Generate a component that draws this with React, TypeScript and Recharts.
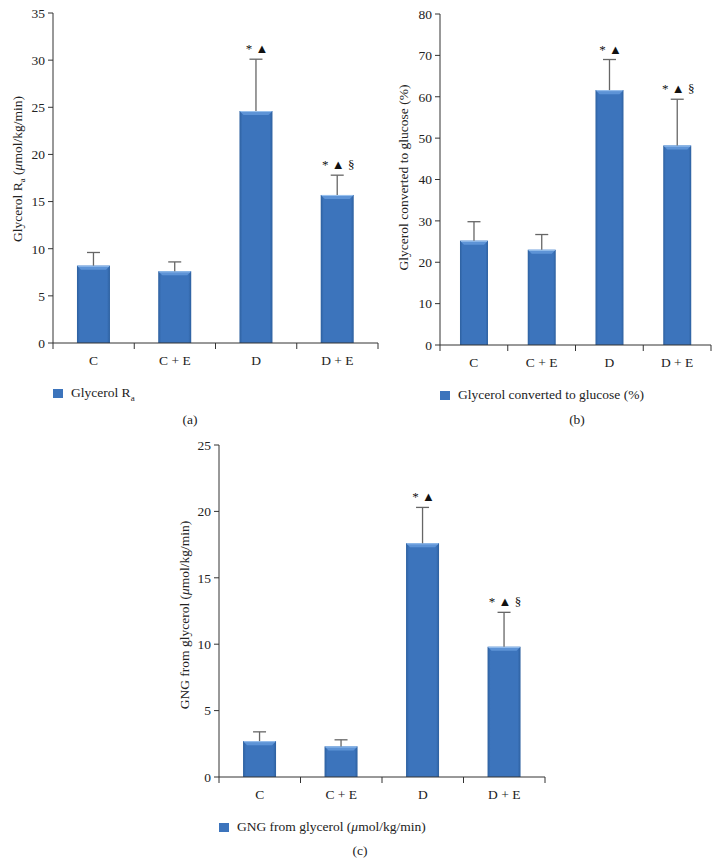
import React from "react"
import { BarChart, Bar, XAxis, YAxis, LabelList, Legend } from "recharts"

const groups = ["C", "C + E", "D", "D + E"]
const marks = ["", "", "* ▲", "* ▲ §"]

// panel (a) glycerol Ra
const raMean = [8.2, 7.6, 24.6, 15.7]
const raUpper = [9.6, 8.6, 30.1, 17.8]
const raTicks = [0, 5, 10, 15, 20, 25, 30, 35]

// panel (b) glycerol converted to glucose
const convMean = [25.2, 23.0, 61.6, 48.2]
const convUpper = [29.8, 26.7, 69.0, 59.4]
const convTicks = [0, 10, 20, 30, 40, 50, 60, 70, 80]

// panel (c) GNG from glycerol
const gngMean = [2.7, 2.3, 17.6, 9.8]
const gngUpper = [3.4, 2.8, 20.3, 12.4]
const gngTicks = [0, 5, 10, 15, 20, 25]

const FONT = '"Liberation Serif", "DejaVu Serif", serif'
const TICK_SIZE = 6
const TICK_MARGIN = 5

const buildRows = (mean: number[], upper: number[]) =>
  groups.map((g, i) => ({
    group: g,
    mean: mean[i],
    err: +(upper[i] - mean[i]).toFixed(2),
    mark: marks[i],
  }))

const BevelBar = (props: any) => {
  const { x, y, width, height, gid } = props
  if (!height || height <= 0) return null
  const b = Math.min(4, height / 2)
  return (
    <g>
      <rect x={x} y={y} width={width} height={height} fill={`url(#${gid})`} />
      <polygon
        points={`${x},${y} ${x + width},${y} ${x + width - b},${y + b} ${x + b},${y + b}`}
        fill="#5d93d6"
      />
      <line x1={x + 1} x2={x + width - 1} y1={y + 0.5} y2={y + 0.5} stroke="#9cc3ef" strokeWidth={1} />
    </g>
  )
}

const ErrShape = (props: any) => {
  const { x, y, width, height } = props
  const cx = x + width / 2
  return (
    <g stroke="#666" strokeWidth={1.3}>
      <line x1={cx} x2={cx} y1={y + height} y2={y} />
      <line x1={cx - 6.5} x2={cx + 6.5} y1={y} y2={y} />
    </g>
  )
}

const MarkLabel = (props: any) => {
  const { x, y, width, value } = props
  if (!value) return null
  return (
    <text x={x + width / 2 + 1} y={y - 6} textAnchor="middle" fontFamily={FONT} fontSize={13} fill="#111">
      {value}
    </text>
  )
}

const BoundTick = (props: any) => {
  const { x, y, payload, index, visibleTicksCount } = props
  const half = payload?.offset ?? 40
  const axisY = y - TICK_SIZE - TICK_MARGIN
  const last = index === (visibleTicksCount ?? 4) - 1
  return (
    <g>
      <line x1={x - half} x2={x - half} y1={axisY} y2={axisY + TICK_SIZE} stroke="#333" />
      {last && <line x1={x + half} x2={x + half} y1={axisY} y2={axisY + TICK_SIZE} stroke="#333" />}
      <text x={x} y={y + 11} textAnchor="middle" fontFamily={FONT} fontSize={13.5} fill="#222">
        {payload.value}
      </text>
    </g>
  )
}

interface PanelProps {
  id: string
  mean: number[]
  upper: number[]
  ticks: number[]
  left: number
  top: number
  width: number
  plotLeft: number
  plotRight: number
  plotTop: number
  plotBottom: number
  yLabel: React.ReactNode
  yLabelX: number
  yLabelShift?: number
  legendLabel: React.ReactNode
  legendX: number
  legendY: number
  caption: string
  captionX: number
  captionY: number
}

function Panel(p: PanelProps) {
  const data = buildRows(p.mean, p.upper)
  const height = p.plotBottom - p.top + 60
  const yAxisWidth = p.plotLeft - p.left
  const gid = `grad-${p.id}`
  const labelCenterY = (p.plotTop + p.plotBottom) / 2 - p.top + (p.yLabelShift ?? 0)
  const YLab = () => (
    <text
      x={p.yLabelX - p.left}
      y={labelCenterY}
      transform={`rotate(-90 ${p.yLabelX - p.left} ${labelCenterY})`}
      textAnchor="middle"
      dominantBaseline="central"
      fontFamily={FONT}
      fontSize={13.5}
      fill="#222"
    >
      {p.yLabel}
    </text>
  )
  return (
    <>
      <div style={{ position: "absolute", left: p.left, top: p.top }}>
        <BarChart
          width={p.width}
          height={height}
          data={data}
          margin={{ top: p.plotTop - p.top, right: p.left + p.width - p.plotRight, left: 0, bottom: 30 }}
          barCategoryGap="29.5%"
        >
          <defs>
            <linearGradient id={gid} x1="0" y1="0" x2="1" y2="0">
              <stop offset="0%" stopColor="#2d609f" />
              <stop offset="9%" stopColor="#3c74bc" />
              <stop offset="91%" stopColor="#3c74bc" />
              <stop offset="100%" stopColor="#2d609f" />
            </linearGradient>
          </defs>
          <XAxis
            dataKey="group"
            height={30}
            tickSize={TICK_SIZE}
            tickMargin={TICK_MARGIN}
            tickLine={false}
            axisLine={{ stroke: "#333" }}
            tick={<BoundTick />}
            interval={0}
          />
          <YAxis
            width={yAxisWidth}
            domain={[0, p.ticks[p.ticks.length - 1]]}
            ticks={p.ticks}
            interval={0}
            tickSize={5}
            tickMargin={3}
            axisLine={{ stroke: "#333" }}
            tickLine={{ stroke: "#333" }}
            tick={{ fontFamily: FONT, fontSize: 13.5, fill: "#222" }}
            label={<YLab />}
          />
          <Bar dataKey="mean" stackId="s" shape={<BevelBar gid={gid} />} isAnimationActive={false} />
          <Bar dataKey="err" stackId="s" shape={<ErrShape />} isAnimationActive={false}>
            <LabelList dataKey="mark" content={<MarkLabel />} />
          </Bar>
          <Legend
            layout="horizontal"
            verticalAlign="middle"
            align="center"
            wrapperStyle={{ left: p.legendX - p.left, top: p.legendY - p.top, width: "auto" }}
            content={() => (
              <div style={{ display: "flex", alignItems: "center", fontFamily: FONT, fontSize: 13.5, color: "#222" }}>
                <span style={{ display: "inline-block", width: 10, height: 9, background: "#3c74bc", marginRight: 8 }} />
                <span>{p.legendLabel}</span>
              </div>
            )}
          />
        </BarChart>
      </div>
      <div
        style={{
          position: "absolute",
          left: p.captionX - 20,
          width: 40,
          top: p.captionY - 9,
          textAlign: "center",
          fontFamily: FONT,
          fontSize: 13.5,
          color: "#222",
        }}
      >
        {p.caption}
      </div>
    </>
  )
}

export default function App() {
  return (
    <div style={{ position: "absolute", left: 0, top: 0, width: 720, height: 867, background: "#fff" }}>
      <Panel
        id="a"
        mean={raMean}
        upper={raUpper}
        ticks={raTicks}
        left={0}
        top={0}
        width={385}
        plotLeft={53}
        plotRight={378}
        plotTop={13}
        plotBottom={343}
        yLabel={
          <>
            Glycerol R<tspan baselineShift="sub" fontSize={9}>a</tspan> (<tspan fontStyle="italic">μ</tspan>mol/kg/min)
          </>
        }
        yLabelX={17}
        yLabelShift={-9}
        legendLabel={
          <>
            Glycerol R<sub style={{ fontSize: 9 }}>a</sub>
          </>
        }
        legendX={53}
        legendY={385}
        caption="(a)"
        captionX={190}
        captionY={421}
      />
      <Panel
        id="b"
        mean={convMean}
        upper={convUpper}
        ticks={convTicks}
        left={380}
        top={0}
        width={340}
        plotLeft={440}
        plotRight={711}
        plotTop={14}
        plotBottom={345}
        yLabel="Glycerol converted to glucose (%)"
        yLabelX={403}
        yLabelShift={-2}
        legendLabel="Glycerol converted to glucose (%)"
        legendX={440}
        legendY={387}
        caption="(b)"
        captionX={577}
        captionY={421}
      />
      <Panel
        id="c"
        mean={gngMean}
        upper={gngUpper}
        ticks={gngTicks}
        left={160}
        top={432}
        width={400}
        plotLeft={219}
        plotRight={545}
        plotTop={445}
        plotBottom={777}
        yLabel={
          <>
            GNG from glycerol (<tspan fontStyle="italic">μ</tspan>mol/kg/min)
          </>
        }
        yLabelX={184}
        yLabelShift={4}
        legendLabel={
          <>
            GNG from glycerol (<i>μ</i>mol/kg/min)
          </>
        }
        legendX={219}
        legendY={819}
        caption="(c)"
        captionX={360}
        captionY={852}
      />
    </div>
  )
}
